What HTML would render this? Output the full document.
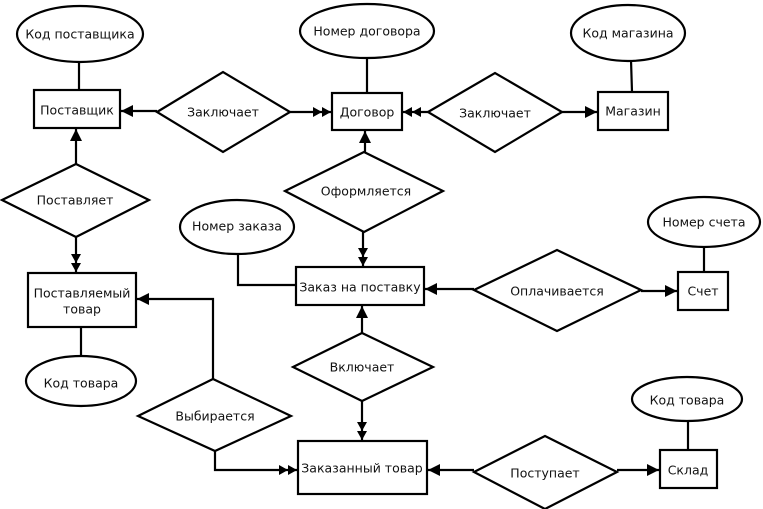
<!DOCTYPE html>
<html><head><meta charset="utf-8"><style>
html,body{margin:0;padding:0;background:#fff}
svg{display:block}
text{font-family:"DejaVu Sans","Liberation Sans",sans-serif;font-size:12.5px;fill:#111;text-anchor:middle;dominant-baseline:central}
</style></head><body>
<svg width="763" height="509" viewBox="0 0 763 509" xmlns="http://www.w3.org/2000/svg">
<defs>
<marker id="s" viewBox="0 0 12 12" refX="12" refY="6" markerWidth="12" markerHeight="13" markerUnits="userSpaceOnUse" orient="auto"><path d="M0,0 L12,6 L0,12 z" fill="#000"/></marker>
<marker id="d" viewBox="0 0 18 10" refX="18" refY="5" markerWidth="18" markerHeight="11" markerUnits="userSpaceOnUse" orient="auto"><path d="M0,0 L9,5 L0,10 z M9,0 L18,5 L9,10 z" fill="#000"/></marker>
</defs>
<g fill="#fff" stroke="#000" stroke-width="2.2">
<line x1="79" y1="63" x2="79" y2="90"/>
<line x1="367" y1="58" x2="367" y2="93"/>
<line x1="631" y1="60" x2="632" y2="92"/>
<line x1="81" y1="327" x2="81" y2="356"/>
<line x1="704" y1="247" x2="704" y2="272"/>
<line x1="688" y1="422" x2="688" y2="450"/>
<polyline fill="none" points="238,254 238,285 296,285"/>

<line x1="157" y1="111" x2="121" y2="111" marker-end="url(#s)"/>
<line x1="290" y1="112" x2="331" y2="112" marker-end="url(#d)"/>
<line x1="428" y1="112" x2="403" y2="112" marker-end="url(#d)"/>
<line x1="562" y1="112" x2="597" y2="112" marker-end="url(#s)"/>
<line x1="76" y1="164" x2="76" y2="129" marker-end="url(#s)"/>
<line x1="76" y1="237" x2="76" y2="272" marker-end="url(#d)"/>
<line x1="365" y1="152" x2="365" y2="131" marker-end="url(#s)"/>
<line x1="363" y1="232" x2="363" y2="266" marker-end="url(#d)"/>
<line x1="474" y1="289" x2="425" y2="289" marker-end="url(#s)"/>
<line x1="641" y1="291" x2="677" y2="291" marker-end="url(#s)"/>
<line x1="362" y1="333" x2="362" y2="306" marker-end="url(#s)"/>
<line x1="362" y1="401" x2="362" y2="440" marker-end="url(#d)"/>
<polyline fill="none" points="213,379 213,299 137,299" marker-end="url(#s)"/>
<polyline fill="none" points="215,451 215,470 297,470" marker-end="url(#d)"/>
<line x1="474" y1="470" x2="428" y2="470" marker-end="url(#s)"/>
<line x1="617" y1="470" x2="659" y2="470" marker-end="url(#s)"/>

<ellipse cx="80" cy="34" rx="63" ry="28"/>
<ellipse cx="367" cy="31" rx="67" ry="27"/>
<ellipse cx="628" cy="33" rx="57" ry="28"/>
<ellipse cx="237" cy="227" rx="57" ry="27"/>
<ellipse cx="704" cy="222" rx="56" ry="25"/>
<ellipse cx="81" cy="381" rx="55" ry="25"/>
<ellipse cx="687" cy="399" rx="55" ry="22"/>

<rect x="34" y="90" width="86" height="38"/>
<rect x="332" y="93" width="70" height="37"/>
<rect x="598" y="92" width="70" height="38"/>
<rect x="28" y="273" width="108" height="54"/>
<rect x="296" y="267" width="128" height="38"/>
<rect x="678" y="272" width="50" height="38"/>
<rect x="298" y="441" width="129" height="53"/>
<rect x="660" y="450" width="57" height="38"/>

<polygon points="157,112 223,72 290,112 223,152"/>
<polygon points="428,112 495,73 562,112 495,152"/>
<polygon points="2,200 76,164 149,200 76,237"/>
<polygon points="285,191 364,152 443,191 364,232"/>
<polygon points="474,290 557,250 641,290 557,331"/>
<polygon points="293,367 362,333 433,367 362,401"/>
<polygon points="138,416 213,379 291,416 215,451"/>
<polygon points="474,472 545,436 617,472 545,509"/>
</g>
<g>
<text x="80" y="34">Код поставщика</text>
<text x="367" y="31">Номер договора</text>
<text x="628" y="33">Код магазина</text>
<text x="237" y="226">Номер заказа</text>
<text x="704" y="222">Номер счета</text>
<text x="81" y="383">Код товара</text>
<text x="687" y="400">Код товара</text>

<text x="77" y="110">Поставщик</text>
<text x="367" y="112">Договор</text>
<text x="633" y="111">Магазин</text>
<text x="82" y="293">Поставляемый</text>
<text x="82" y="309">товар</text>
<text x="360" y="287">Заказ на поставку</text>
<text x="703" y="291">Счет</text>
<text x="362" y="468">Заказанный товар</text>
<text x="688" y="470">Склад</text>

<text x="223" y="112">Заключает</text>
<text x="495" y="113">Заключает</text>
<text x="75" y="200">Поставляет</text>
<text x="366" y="191">Оформляется</text>
<text x="557" y="291">Оплачивается</text>
<text x="362" y="367">Включает</text>
<text x="215" y="416">Выбирается</text>
<text x="545" y="473">Поступает</text>
</g>
</svg>
</body></html>
